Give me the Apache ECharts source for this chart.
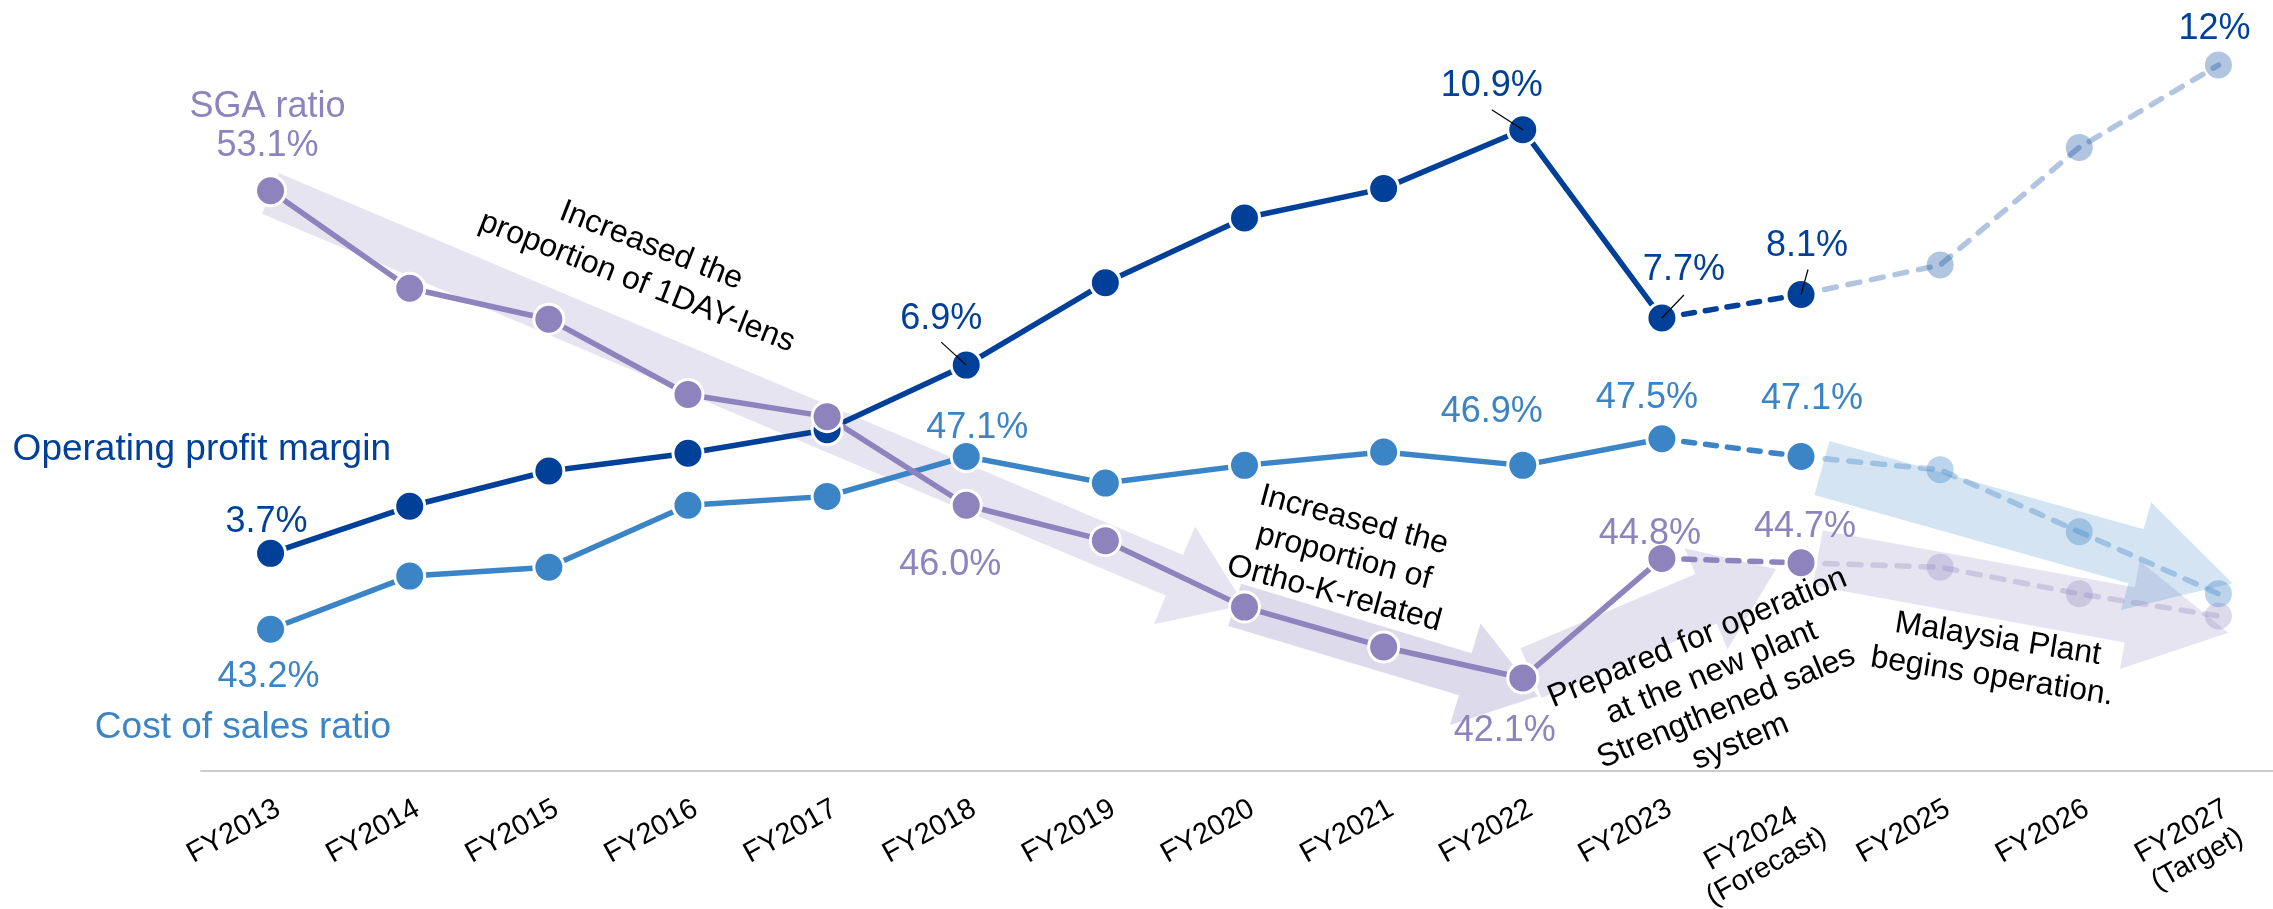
<!DOCTYPE html>
<html><head><meta charset="utf-8">
<script src="https://cdn.jsdelivr.net/npm/echarts@6/dist/echarts.min.js"></script>
<style>html,body{margin:0;padding:0;background:#fff}#c{width:2273px;height:909px}</style>
</head><body><div id="c"></div>
<script>
// ---------- data ----------
const categories = ['FY2013','FY2014','FY2015','FY2016','FY2017','FY2018','FY2019','FY2020','FY2021','FY2022','FY2023','FY2024\n(Forecast)','FY2025','FY2026','FY2027\n(Target)'];
const operatingMargin = [3.7, 4.5, 5.1, 5.4, 5.8, 6.9, 8.3, 9.4, 9.9, 10.9, 7.7, 8.1, 8.6, 10.6, 12];
const costOfSalesRatio = [43.2, 44.4, 44.6, 46.0, 46.2, 47.1, 46.5, 46.9, 47.2, 46.9, 47.5, 47.1, 46.8, 45.4, 44.0];
const sgaRatio = [53.1, 50.9, 50.2, 48.5, 48.0, 46.0, 45.2, 43.7, 42.8, 42.1, 44.8, 44.7, 44.6, 44.0, 43.5];
const seriesNames = ['Operating profit margin', 'Cost of sales ratio', 'SGA ratio'];
const lastActualIdx = 10;   // FY2023
const forecastIdx = 11;     // FY2024 forecast
const targetIdx = 14;       // FY2027 target
// trend arrows: [fromCategoryIdx, fromRatio, toCategoryIdx, toRatio]
const trendArrows = [
  [0.0, 53.04, 7.0, 43.75],
  [6.93, 43.75, 9.11, 41.69],
  [9.06, 42.21, 10.82, 44.56],
  [11.12, 44.81, 14.07, 43.12],
  [11.15, 46.84, 14.10, 44.24]
];
const annotations = [
  'Increased the\nproportion of 1DAY-lens',
  'Increased the\nproportion of\nOrtho-K-related',
  'Prepared for operation\nat the new plant\nStrengthened sales\nsystem',
  'Malaysia Plant\nbegins operation.'
];

// ---------- styles ----------
const FONT = '"Liberation Sans", Arial, Helvetica, sans-serif';
const C_OPM = '#004098', C_COST = '#3b84c6', C_SGA = '#8e83bd';
const P_OPM = 'rgba(0,64,152,0.30)', P_COST = 'rgba(59,132,198,0.35)', P_SGA = 'rgba(142,131,189,0.30)';
const arrowLook = [
  {body: 22, head: 53, len: 76, color: 'rgba(142,131,189,0.22)'},
  {body: 22, head: 53, len: 76, color: 'rgba(142,131,189,0.30)'},
  {body: 27, head: 55, len: 76, color: 'rgba(142,131,189,0.23)'},
  {body: 28, head: 55, len: 100, color: 'rgba(142,131,189,0.22)'},
  {body: 28, head: 56, len: 100, color: 'rgba(59,132,198,0.22)'}
];
// label offsets (px from marker centre)
const opmLabelOffsets = {0: [-4, -31], 5: [-25, -46], 9: [-31, -44], 10: [22, -48], 11: [6, -48], 14: [-4, -36]};
const costLabelOffsets = {0: [-2, 48], 5: [11, -28], 9: [-31, -53], 10: [-15, -41], 11: [11, -57]};
const sgaLabelOffsets = {0: [-3, -64], 5: [-16, 60], 9: [-18, 53], 10: [-12, -24], 11: [4, -36]};
const leaderOffsets = {5: [-25, -23], 9: [-31, -20], 10: [22, -23], 11: [7, -25]};

function fmt(v, i) { return (i === targetIdx ? v.toFixed(0) : v.toFixed(1)) + '%'; }

function buildSeries(values, color, pale, yAxisIndex, offsets, prefix) {
  const item = (i, extra) => {
    const v = values[i];
    const o = offsets[i];
    const it = Object.assign({value: v}, extra || {});
    if (o) {
      it.label = {show: true, offset: o, formatter: (prefix && i === 0 ? prefix + '\n' : '') + fmt(v, i)};
    }
    return it;
  };
  const common = {
    type: 'line', xAxisIndex: 0, yAxisIndex: yAxisIndex, symbol: 'circle', symbolSize: 30,
    animation: false, silent: true,
    label: {show: false, position: 'inside', color: color, fontSize: 36, fontFamily: FONT, lineHeight: 39}
  };
  const actual = Object.assign({}, common, {
    data: values.map((v, i) => i <= lastActualIdx ? item(i) : '-'),
    lineStyle: {color: color, width: 5.5},
    itemStyle: {color: color, borderColor: '#fff', borderWidth: 3}
  });
  const forecast = Object.assign({}, common, {
    data: values.map((v, i) => i === lastActualIdx ? {value: v, symbol: 'none'} : (i === forecastIdx ? item(i) : '-')),
    lineStyle: {color: color, width: 5.5, type: [11, 11], cap: 'round'},
    itemStyle: {color: color, borderColor: '#fff', borderWidth: 3}
  });
  const target = Object.assign({}, common, {
    data: values.map((v, i) => i === forecastIdx ? {value: v, symbol: 'none'} : (i > forecastIdx ? item(i) : '-')),
    lineStyle: {color: pale, width: 5.5, type: [12, 12], cap: 'round'},
    itemStyle: {color: pale, borderWidth: 0},
    symbolSize: 27
  });
  return [actual, forecast, target];
}

const chart = echarts.init(document.getElementById('c'), null, {renderer: 'canvas', width: 2273, height: 909});

const option = {
  animation: false,
  backgroundColor: '#fff',
  grid: {left: 201, right: -15, top: 18, bottom: 138, containLabel: false, outerBoundsMode: 'none'},
  xAxis: [
    {
      type: 'category', data: categories, boundaryGap: true,
      axisLine: {show: true, onZero: false, lineStyle: {color: '#cccccc', width: 2}},
      axisTick: {show: false}, splitLine: {show: false},
      axisLabel: {
        interval: 0, hideOverlap: false, rotate: 29, margin: 22, verticalAlign: 'top',
        color: '#000', fontSize: 29, fontFamily: FONT,
        formatter: v => v.split('\n').map(s => '{a|' + s + '}').join('\n'),
        rich: {a: {align: 'center', color: '#000', fontSize: 29, fontFamily: FONT, lineHeight: 32}}
      }
    },
    {type: 'value', min: -0.5, max: 14.5, show: false, splitLine: {show: false}}
  ],
  yAxis: [
    {type: 'value', min: 40, max: 57, show: false, splitLine: {show: false}},
    {type: 'value', min: 0, max: 12.8, show: false, splitLine: {show: false}}
  ],
  series: [].concat(
    [{
      type: 'custom', xAxisIndex: 1, yAxisIndex: 0, z: 1, silent: true, clip: false,
      data: trendArrows, encode: {x: [0, 2], y: [1, 3]},
      renderItem: (params, api) => {
        const look = arrowLook[params.dataIndex];
        const a = api.coord([api.value(0), api.value(1)]);
        const b = api.coord([api.value(2), api.value(3)]);
        const dx = b[0] - a[0], dy = b[1] - a[1], L = Math.hypot(dx, dy);
        const ux = dx / L, uy = dy / L, nx = -uy, ny = ux;
        const bx = b[0] - ux * look.len, by = b[1] - uy * look.len;
        const P = (x, y, k) => [x + nx * k, y + ny * k];
        return {
          type: 'polygon',
          shape: {points: [P(a[0], a[1], look.body), P(bx, by, look.body), P(bx, by, look.head), [b[0], b[1]],
                           P(bx, by, -look.head), P(bx, by, -look.body), P(a[0], a[1], -look.body)]},
          style: {fill: look.color}
        };
      }
    }],
    buildSeries(costOfSalesRatio, C_COST, P_COST, 0, costLabelOffsets, null),
    buildSeries(operatingMargin, C_OPM, P_OPM, 1, opmLabelOffsets, null),
    buildSeries(sgaRatio, C_SGA, P_SGA, 0, sgaLabelOffsets, seriesNames[2]),
    [{
      type: 'custom', xAxisIndex: 1, yAxisIndex: 1, z: 10, silent: true, clip: false,
      data: Object.keys(leaderOffsets).map(k => [Number(k), operatingMargin[Number(k)]]),
      encode: {x: 0, y: 1},
      renderItem: (params, api) => {
        const i = api.value(0);
        const p = api.coord([i, api.value(1)]);
        const o = leaderOffsets[i];
        return {type: 'line', shape: {x1: p[0] + o[0], y1: p[1] + o[1], x2: p[0], y2: p[1]},
                style: {stroke: '#000', lineWidth: 1.2}};
      }
    }]
  ),
  graphic: [
    {type: 'text', x: 391, y: 450, z: 20, style: {text: seriesNames[0], fill: C_OPM, fontSize: 37, fontFamily: FONT, align: 'right', verticalAlign: 'middle'}},
    {type: 'text', x: 391, y: 728, z: 20, style: {text: seriesNames[1], fill: C_COST, fontSize: 37, fontFamily: FONT, align: 'right', verticalAlign: 'middle'}},
    {type: 'text', x: 644, y: 264, rotation: -21.5 * Math.PI / 180, z: 20, style: {text: annotations[0], fill: '#000', fontSize: 32, fontFamily: FONT, align: 'center', verticalAlign: 'middle', lineHeight: 39}},
    {type: 'text', x: 1344, y: 557, rotation: -15 * Math.PI / 180, z: 20, style: {text: annotations[1], fill: '#000', fontSize: 32, fontFamily: FONT, align: 'center', verticalAlign: 'middle', lineHeight: 38}},
    {type: 'text', x: 1719, y: 690, rotation: 22.5 * Math.PI / 180, z: 20, style: {text: annotations[2], fill: '#000', fontSize: 32, fontFamily: FONT, align: 'center', verticalAlign: 'middle', lineHeight: 37.5}},
    {type: 'text', x: 1995, y: 658, rotation: -9 * Math.PI / 180, z: 20, style: {text: annotations[3], fill: '#000', fontSize: 32, fontFamily: FONT, align: 'center', verticalAlign: 'middle', lineHeight: 38}}
  ]
};
chart.setOption(option);
</script>
</body></html>
